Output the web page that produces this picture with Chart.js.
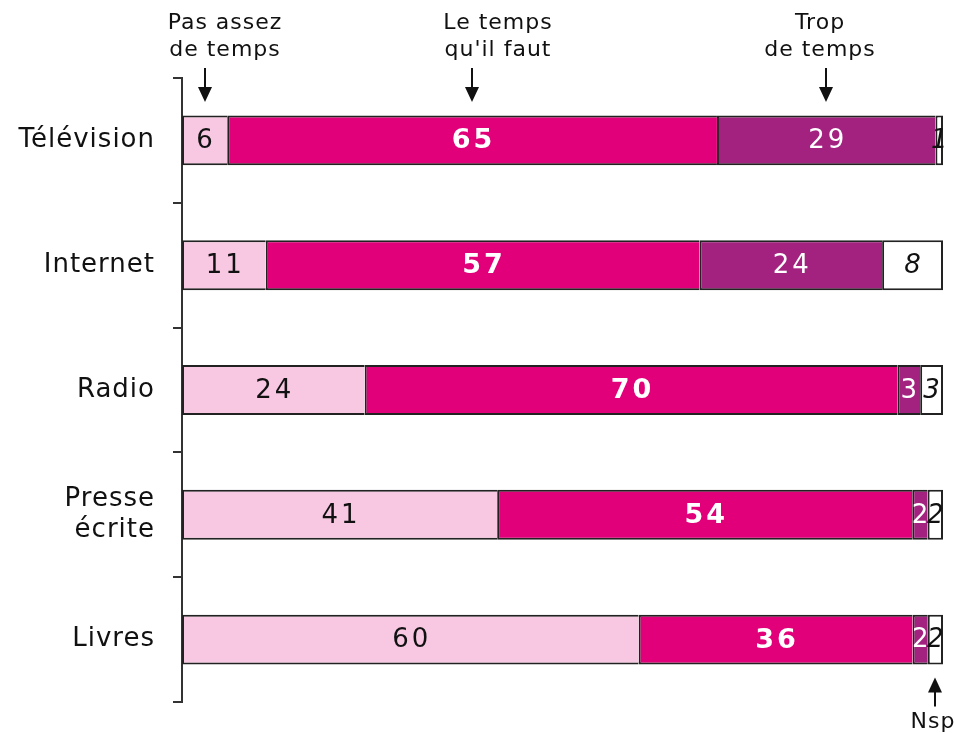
<!DOCTYPE html>
<html>
<head>
<meta charset="utf-8">
<script src="https://cdn.jsdelivr.net/npm/chart.js@4.4.1/dist/chart.umd.min.js"></script>
<style>
  html, body { margin: 0; padding: 0; background: #ffffff; }
  #wrap { width: 954px; height: 733px; }
</style>
</head>
<body>
<div id="wrap"><canvas id="c" width="954" height="733"></canvas></div>
<script>
// ---- Data ----
const categories = ['Télévision', 'Internet', 'Radio', ['Presse', 'écrite'], 'Livres'];
const pasAssez   = [6, 11, 24, 41, 60];
const tempsFaut  = [65, 57, 70, 54, 36];
const tropTemps  = [29, 24, 3, 2, 2];
const nsp        = [1, 8, 3, 2, 2];
const seriesNames = ['Pas assez de temps', "Le temps qu'il faut", 'Trop de temps', 'Nsp'];

// ---- Derived (bars are drawn as 100 % stacked) ----
const rawSeries = [pasAssez, tempsFaut, tropTemps, nsp];
const totals = categories.map((_, i) => rawSeries.reduce((s, arr) => s + arr[i], 0));
const shares = rawSeries.map(arr => arr.map((v, i) => v / totals[i] * 100));

const colors = ['#F8C8E2', '#E2007A', '#A3217F', '#FFFFFF'];
const labelStyles = [
  { color: '#111111', weight: 'normal', style: 'normal', size: 26 },
  { color: '#FFFFFF', weight: 'bold',   style: 'normal', size: 27 },
  { color: '#FFFFFF', weight: 'normal', style: 'normal', size: 26 },
  { color: '#111111', weight: 'normal', style: 'italic', size: 26 }
];
const FONT = 'DejaVu Sans';

const spacingPlugin = {
  id: 'spacing',
  beforeUpdate(chart) { chart.ctx.letterSpacing = '1px'; },
  beforeDraw(chart) { chart.ctx.letterSpacing = '1px'; }
};

const valuePlugin = {
  id: 'values',
  afterDatasetsDraw(chart) {
    const ctx = chart.ctx;
    ctx.save();
    ctx.letterSpacing = '3px';
    ctx.textAlign = 'center';
    ctx.textBaseline = 'middle';
    chart.data.datasets.forEach((ds, di) => {
      const meta = chart.getDatasetMeta(di);
      const st = labelStyles[di];
      ctx.fillStyle = st.color;
      ctx.font = `${st.style} ${st.weight} ${st.size}px "${FONT}"`;
      meta.data.forEach((el, i) => {
        const cx = (el.x + el.base) / 2 + 1.5;
        ctx.fillText(String(rawSeries[di][i]), cx, el.y + 1);
      });
    });
    ctx.restore();
  }
};

function arrow(ctx, x, y0, y1) {
  const dir = y1 > y0 ? 1 : -1;
  ctx.beginPath();
  ctx.moveTo(x, y0);
  ctx.lineTo(x, y1 - dir * 10);
  ctx.stroke();
  ctx.beginPath();
  ctx.moveTo(x, y1);
  ctx.lineTo(x - 7, y1 - dir * 15);
  ctx.lineTo(x + 7, y1 - dir * 15);
  ctx.closePath();
  ctx.fill();
}

const annotPlugin = {
  id: 'annot',
  afterDraw(chart) {
    const ctx = chart.ctx;
    ctx.save();
    ctx.fillStyle = '#111111';
    ctx.strokeStyle = '#111111';
    ctx.lineWidth = 2;
    ctx.letterSpacing = '1px';
    ctx.font = `22px "${FONT}"`;
    ctx.textAlign = 'center';
    ctx.textBaseline = 'alphabetic';
    const top = chart.chartArea.top;
    const head = [
      { lines: ['Pas assez', 'de temps'], tx: 225 },
      { lines: ['Le temps', "qu'il faut"], tx: 498 },
      { lines: ['Trop', 'de temps'], tx: 820 }
    ];
    head.forEach((h, di) => {
      ctx.fillText(h.lines[0], h.tx, 29);
      ctx.fillText(h.lines[1], h.tx, 56);
      const el = chart.getDatasetMeta(di).data[0];
      const ax = Math.round((el.x + el.base) / 2);
      arrow(ctx, ax, top - 10, top + 24);
    });
    const last = chart.getDatasetMeta(3).data[categories.length - 1];
    const nx = Math.round((last.x + last.base) / 2);
    arrow(ctx, nx, last.y + last.height / 2 + 42, last.y + last.height / 2 + 13);
    ctx.fillText('Nsp', nx - 2, 728);
    ctx.restore();
  }
};

new Chart(document.getElementById('c'), {
  type: 'bar',
  data: {
    labels: categories,
    datasets: seriesNames.map((name, di) => ({
      label: name,
      data: shares[di],
      backgroundColor: colors[di],
      borderColor: '#222222',
      borderWidth: di === seriesNames.length - 1
        ? 2
        : { left: 2, top: 2, bottom: 2, right: 0 },
      borderSkipped: false,
      barPercentage: 0.4,
      categoryPercentage: 1.0
    }))
  },
  options: {
    indexAxis: 'y',
    responsive: false,
    animation: false,
    devicePixelRatio: 1,
    layout: { padding: { top: 78, bottom: 31, right: 11, left: 0 } },
    scales: {
      x: { stacked: true, min: 0, max: 100, display: false },
      y: {
        stacked: true,
        grid: { drawOnChartArea: false, drawTicks: true, tickLength: 9, color: '#333333', lineWidth: 2, offset: true },
        border: { display: true, color: '#333333', width: 2 },
        ticks: { font: { family: FONT, size: 26 }, color: '#111111', padding: 18 },
        afterFit(scale) { scale.width = 182; scale.paddingTop = 0; scale.paddingBottom = 0; }
      }
    },
    plugins: { legend: { display: false }, tooltip: { enabled: false } }
  },
  plugins: [spacingPlugin, valuePlugin, annotPlugin]
});
</script>
</body>
</html>
